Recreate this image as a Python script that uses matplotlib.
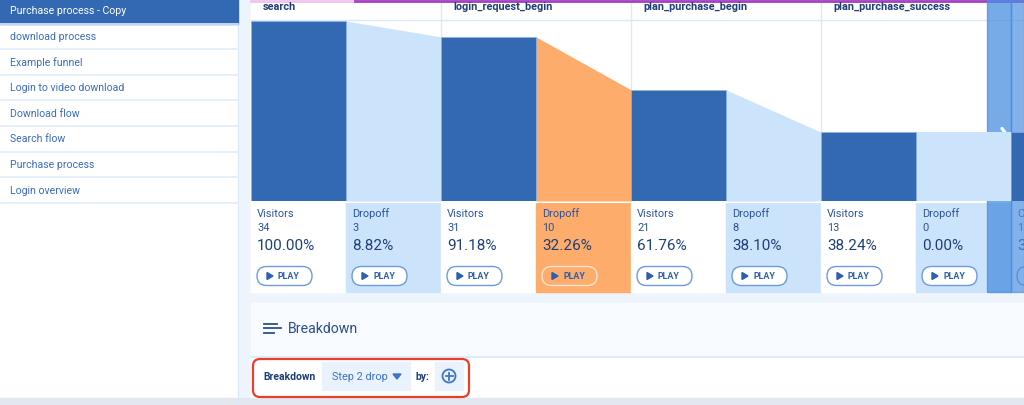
import matplotlib.pyplot as plt
from matplotlib.patches import Rectangle, FancyBboxPatch, Circle, Polygon
import numpy as np

plt.rcParams['font.family'] = ['Roboto', 'DejaVu Sans']

# data
menu_items = ["Purchase process - Copy", "download process", "Example funnel",
              "Login to video download", "Download flow", "Search flow",
              "Purchase process", "Login overview"]
steps = ["search", "login_request_begin", "plan_purchase_begin",
         "plan_purchase_success", ""]
visitors = [34, 31, 21, 13, 13]
selected_drop = 1  # "Step 2 drop"

DARK = "#3368b2"
LIGHT = "#cce4fb"
ORANGE = "#fdac6b"
NAVY = "#1f3f7a"
BG = "#eef4fc"
GRID = "#dbe9fb"

W, H = 1024, 405
fig = plt.figure(figsize=(W / 100, H / 100), dpi=100)

# page in pixel coordinates
bg = fig.add_axes([0, 0, 1, 1])
bg.set_xlim(0, W)
bg.set_ylim(H, 0)
bg.axis("off")
bg.add_patch(Rectangle((0, 0), W, H, color=BG, zorder=0))

# sidebar
bg.add_patch(Rectangle((0, 0), 238, H, color="white", zorder=1))
bg.plot([238, 238], [0, H], color=GRID, lw=1, zorder=2)
row_h = 25.6
for i, name in enumerate(menu_items):
    y0 = i * row_h
    if i == 0:
        bg.add_patch(Rectangle((0, y0), 238, row_h - 2, color=DARK, zorder=2))
    bg.plot([0, 238], [y0 + row_h - 2, y0 + row_h - 2], color="#e2edfb", lw=1.2, zorder=2)
    bg.text(10, y0 + 11.5, name, fontsize=7.6, va="center",
            color="white" if i == 0 else "#3a6cc0", zorder=3)

# main funnel panel
step_w = 190
x0 = 251
bg.add_patch(Rectangle((x0, 0), W - x0, 292, color="white", zorder=1))
bg.plot([x0, 355], [0.6, 0.6], color="#f0c4f2", lw=2, zorder=3)
bg.plot([355, W], [0.6, 0.6], color="#a43fc4", lw=2, zorder=3)
bg.plot([x0, W], [20, 20], color=GRID, lw=1, zorder=2)
for i in range(1, len(steps)):
    bg.plot([x0 + i * step_w] * 2, [0, 202], color=GRID, lw=1, zorder=2)
for i, s in enumerate(steps):
    bg.text(x0 + i * step_w + 12, 7, s, fontsize=7.8, fontweight="bold",
            color=NAVY, va="center", zorder=3)

# funnel bars on their own axes
fax = fig.add_axes([x0 / W, (H - 201) / H, (W - x0) / W, 180 / H])
fax.set_xlim(0, (W - x0) / step_w)
fax.set_ylim(0, max(visitors))
fax.axis("off")
fax.patch.set_alpha(0)
idx = np.arange(len(visitors))
fax.bar(idx, visitors, width=0.5, align="edge", color=DARK,
        edgecolor="#8fb3e6", linewidth=0.4, zorder=3)
for i in range(len(visitors) - 1):
    c = ORANGE if i == selected_drop else LIGHT
    fax.fill_between([i + 0.5, i + 1], [visitors[i], visitors[i + 1]], 0,
                     color=c, linewidth=0, zorder=2)

# cards below the bars
total = visitors[0]
for i, v in enumerate(visitors):
    cx = x0 + i * step_w
    label = "Visitors" if steps[i] else "Conversion"
    cards = [(cx, "white", label, v, 100 * v / total)]
    if i < len(visitors) - 1:
        drop = visitors[i] - visitors[i + 1]
        c = ORANGE if i == selected_drop else LIGHT
        cards.append((cx + 95, c, "Dropoff", drop, 100 * drop / v))
    for (bx, fc, lab, n, pct) in cards:
        bg.add_patch(Rectangle((bx, 203), 95, 89, color=fc, zorder=2))
        tx = bx + 6
        bg.text(tx, 214, lab, fontsize=7.9, color="#2b559c", va="center", zorder=3)
        bg.text(tx, 228, str(n), fontsize=7.9, color="#2b559c", va="center", zorder=3)
        bg.text(tx, 246, f"{pct:.2f}%", fontsize=11, color=NAVY, va="center", zorder=3)
        bfc = ORANGE if fc == ORANGE else "white"
        bec = "#fde6d4" if fc == ORANGE else "#6d9be0"
        bg.add_patch(FancyBboxPatch((bx + 6, 266.5), 55, 19,
                                    boxstyle="round,pad=0,rounding_size=9.5",
                                    fc=bfc, ec=bec, lw=1, zorder=3))
        bg.add_patch(Polygon([[bx + 16, 272.5], [bx + 16, 279.5], [bx + 22, 276]],
                             color="#2d5fb0", zorder=4))
        bg.text(bx + 27, 276.5, "PLAY", fontsize=6.4, fontweight="bold",
                color="#2d5fb0", va="center", zorder=4)
bg.plot([x0, W], [202, 202], color="white", lw=1.5, zorder=2.5)

# scroll overlay on the right
bg.add_patch(Rectangle((987, 0), 24, 292, color="#488ee1", alpha=0.74, zorder=6))
bg.add_patch(Rectangle((1011, 0), W - 1011, 292, color="#488ee1", alpha=0.68, zorder=6))
bg.plot([1002, 1006, 1002], [128.5, 134, 139.5], color="white", lw=2.3,
        solid_capstyle="round", solid_joinstyle="round", zorder=7)

# breakdown panel
bg.add_patch(Rectangle((x0, 303), W - x0, 53, color="#f8fbff", zorder=1))
bg.plot([x0, W], [356.5, 356.5], color="#e0ecfb", lw=1.5, zorder=2)
for k, ln in enumerate([13, 17, 10]):
    yy = 323.5 + k * 4.5
    bg.plot([264, 264 + ln], [yy, yy], color="#2c4f8a", lw=1.3, zorder=3)
bg.text(288, 329, "Breakdown", fontsize=10.2, color="#2c4f8a", va="center", zorder=3)

bg.add_patch(Rectangle((x0, 357), W - x0, 41, color="white", zorder=1))
bg.add_patch(Rectangle((0, 398), W, 7, color="#e3e7ee", zorder=1))
bg.add_patch(FancyBboxPatch((253, 359), 216, 38,
                            boxstyle="round,pad=0,rounding_size=7",
                            fc="none", ec="#e8402a", lw=1.6, zorder=4))
bg.text(263, 377, "Breakdown", fontsize=7.5, fontweight="bold", color=NAVY,
        va="center", zorder=3)
bg.add_patch(Rectangle((322, 362), 88, 28, color="#eaf2fd", zorder=2))
bg.text(332, 377, "Step 2 drop", fontsize=7.8, color="#3d74c8", va="center", zorder=3)
bg.add_patch(Polygon([[393, 374], [401, 374], [397, 379]], color="#3d74c8", zorder=3))
bg.text(416, 377, "by:", fontsize=7.5, fontweight="bold", color=NAVY,
        va="center", zorder=3)
bg.add_patch(Rectangle((435, 362), 28, 28, color="#eaf2fd", zorder=2))
bg.add_patch(Circle((449, 376), 6.5, fc="none", ec="#3d74c8", lw=1.3, zorder=3))
bg.plot([445.5, 452.5], [376, 376], color="#3d74c8", lw=1.3, zorder=3)
bg.plot([449, 449], [372.5, 379.5], color="#3d74c8", lw=1.3, zorder=3)

fig.savefig("out.png", dpi=100)
